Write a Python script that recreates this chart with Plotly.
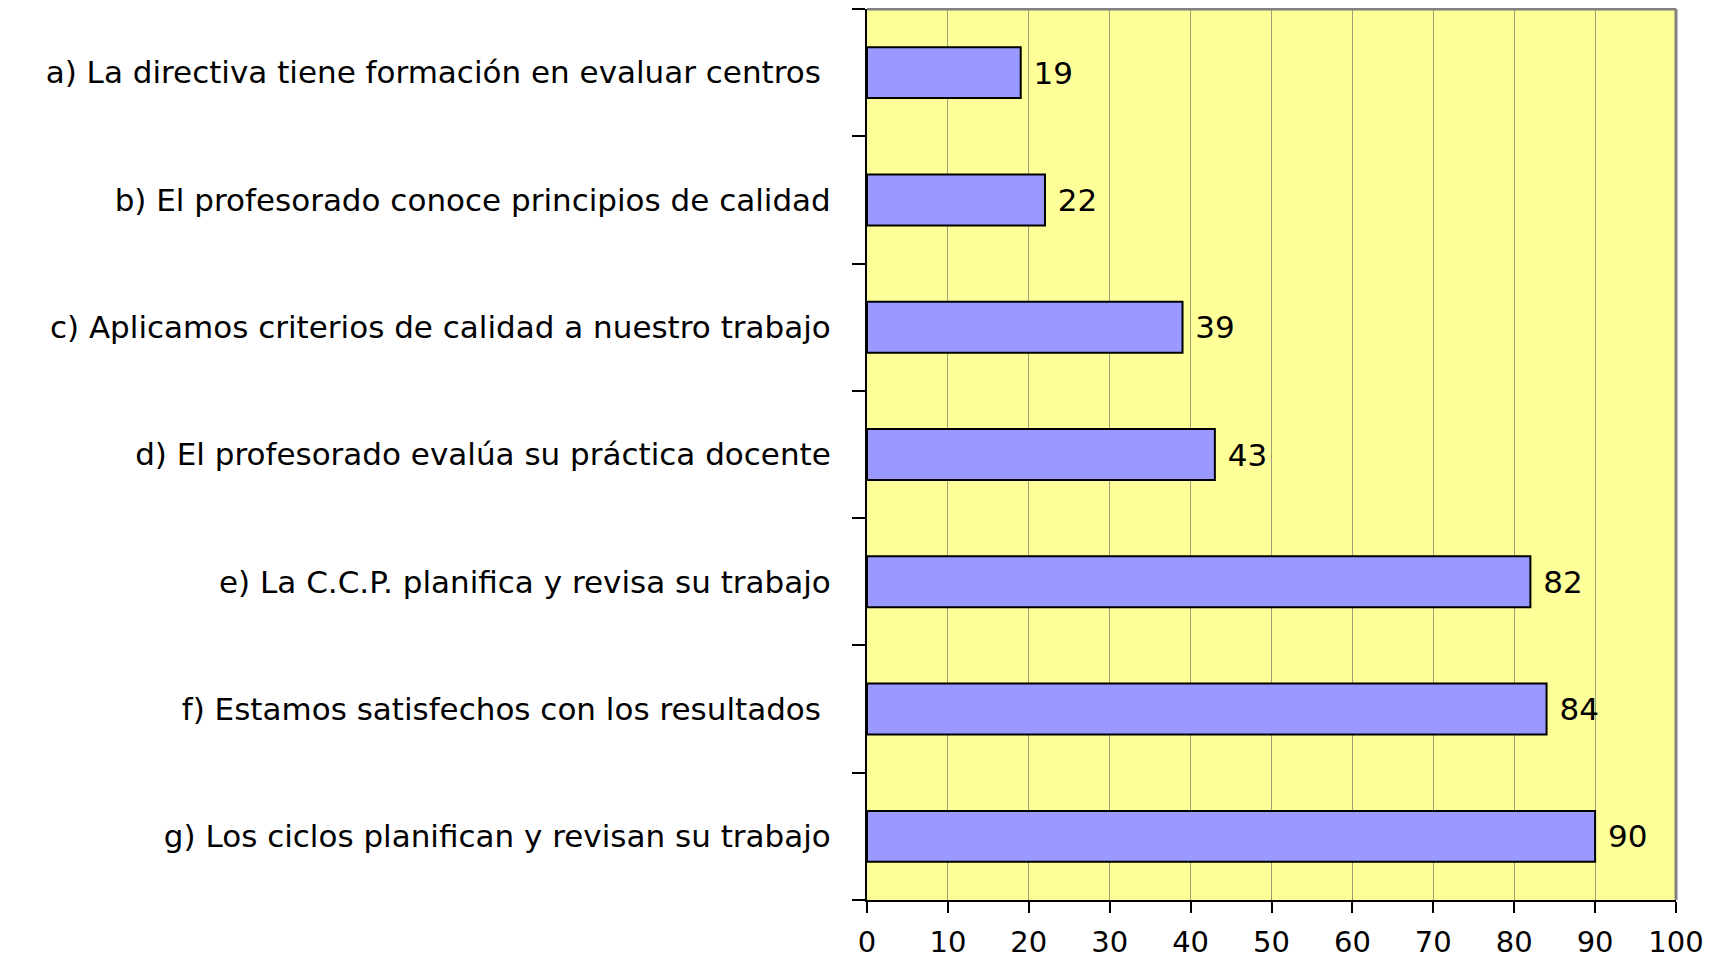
import plotly.graph_objects as go

categories = [
    "a) La directiva tiene formación en evaluar centros\u00a0",
    "b) El profesorado conoce principios de calidad",
    "c) Aplicamos criterios de calidad a nuestro trabajo",
    "d) El profesorado evalúa su práctica docente",
    "e) La C.C.P. planifica y revisa su trabajo",
    "f) Estamos satisfechos con los resultados\u00a0",
    "g) Los ciclos planifican y revisan su trabajo",
]
values = [19, 22, 39, 43, 82, 84, 90]
x_ticks = [0, 10, 20, 30, 40, 50, 60, 70, 80, 90, 100]

FONT = "DejaVu Sans, Verdana, sans-serif"
FS = 31

fig = go.Figure()
fig.add_trace(go.Bar(
    x=values,
    y=categories,
    orientation="h",
    marker=dict(color="#9999FF", line=dict(color="black", width=2)),
    text=["\u00a0" + str(v) for v in values],
    textposition="outside",
    textfont=dict(family=FONT, size=FS, color="black"),
    cliponaxis=False,
    hoverinfo="skip",
))

fig.update_layout(
    width=1717,
    height=954,
    margin=dict(l=859, r=49, t=1, b=62),
    paper_bgcolor="white",
    plot_bgcolor="#FFFF99",
    bargap=0.6,
    showlegend=False,
    font=dict(family=FONT, size=FS, color="black"),
)

fig.update_xaxes(
    range=[0, 100],
    tickvals=x_ticks,
    ticktext=[str(t) for t in x_ticks],
    showgrid=True,
    gridcolor="#A09E78",
    gridwidth=1,
    ticks="outside",
    ticklen=11,
    tickwidth=2,
    tickcolor="black",
    showline=True,
    linecolor="black",
    linewidth=2,
    zeroline=False,
    automargin=False,
    tickfont=dict(family=FONT, size=29, color="black"),
    ticklabelstandoff=4,
)

fig.update_yaxes(
    categoryorder="array",
    categoryarray=categories[::-1],
    ticks="outside",
    tickson="boundaries",
    ticklen=13,
    tickwidth=2,
    tickcolor="black",
    showline=True,
    linecolor="black",
    linewidth=2,
    showgrid=False,
    automargin=False,
    tickfont=dict(family=FONT, size=FS, color="black"),
    ticklabelstandoff=28,
)

# gray border on top and right of plot area
fig.add_shape(type="line", xref="paper", yref="paper", x0=0, x1=1, y0=1, y1=1,
              line=dict(color="#808080", width=3))
fig.add_shape(type="line", xref="paper", yref="paper", x0=1, x1=1, y0=0, y1=1,
              line=dict(color="#808080", width=3))

fig.write_html("out.html")
